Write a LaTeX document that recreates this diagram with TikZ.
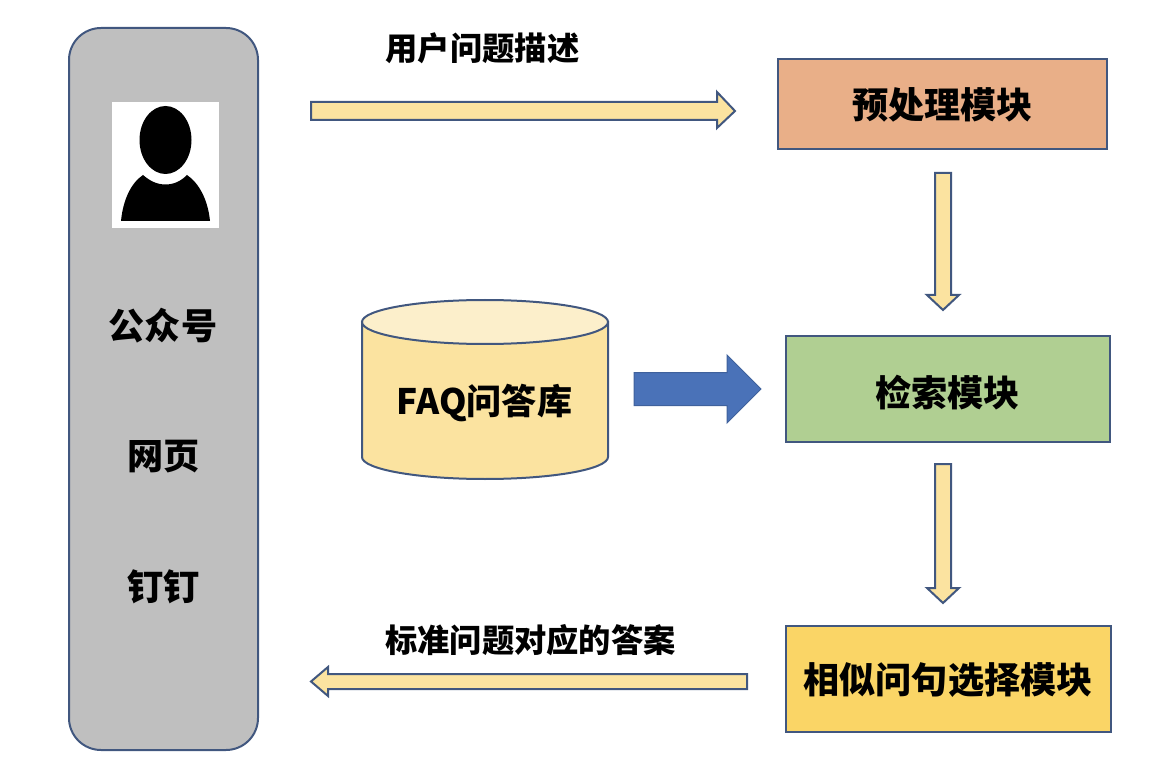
\documentclass[tikz,border=0pt]{standalone}
\usepackage{fontspec}
\setmainfont{Noto Sans CJK SC}
\definecolor{edge}{HTML}{41577F}
\definecolor{panel}{HTML}{BFBFBF}
\definecolor{pale}{HTML}{FBE3A0}
\definecolor{paletop}{HTML}{FCEFCB}
\definecolor{prefill}{HTML}{E9AF88}
\definecolor{searchfill}{HTML}{B0CF92}
\definecolor{simfill}{HTML}{FAD566}
\definecolor{bluefill}{HTML}{4A72B8}
\tikzset{
  x=0.75pt,y=-0.75pt,
  shape edge/.style={draw=edge,line width=1.5pt,line join=miter},
  modulebox/.style={shape edge,rectangle,inner sep=0pt},
  biglabel/.style={inner sep=0pt,font=\fontsize{27.1}{30}\selectfont\bfseries},
  smalllabel/.style={inner sep=0pt,font=\fontsize{24.2}{27}\selectfont\bfseries},
  paleblock/.style={shape edge,fill=pale},
  blueblock/.style={draw=bluefill!85!black,line width=0.75pt,fill=bluefill},
}
\begin{document}
\begin{tikzpicture}
\useasboundingbox (0,0) rectangle (1158,770);
% left panel
\node[shape edge,fill=panel,rectangle,rounded corners=24pt,inner sep=0pt,minimum width=141.75pt,minimum height=541.5pt] (panel) at (163.5,389) {};
% person icon
\fill[white] (112,102) rectangle (219,228);
\fill[black] (165.5,140) ellipse [x radius=26,y radius=34];
\fill[black] (121,221) .. controls (123,200) and (131,183) .. (143,175) .. controls (150,181) and (157,184.5) .. (165.5,184.5)
  .. controls (174,184.5) and (181,181) .. (187,175) .. controls (199,183) and (208,200) .. (210,221) -- cycle;
\node[biglabel] (gzh) at (163,326) {公众号};
\node[biglabel] (web) at (163.5,456.5) {网页};
\node[biglabel] (ding) at (163.5,586.5) {钉钉};
% modules
\node[modulebox,fill=prefill,minimum width=246.75pt,minimum height=67.5pt] (pre) at (942.5,104) {};
\node[biglabel] (prelabel) at (942.5,105) {预处理模块};
\node[modulebox,fill=searchfill,minimum width=243pt,minimum height=79.5pt] (search) at (948,389) {};
\node[biglabel] (searchlabel) at (947.5,392.5) {检索模块};
\node[modulebox,fill=simfill,minimum width=243.75pt,minimum height=79.5pt] (sim) at (948.5,679) {};
\node[biglabel] (simlabel) at (948,680) {相似问句选择模块};
% cylinder
\draw[shape edge,fill=pale] (362,322) -- (362,457) arc[start angle=180,end angle=0,x radius=123,y radius=22] -- (608,322) -- cycle;
\draw[shape edge,fill=paletop] (485,322) ellipse [x radius=123,y radius=22];
\node[biglabel,font=\fontsize{26.3}{30}\selectfont\bfseries] (faq) at (484.5,403) {FAQ问答库};
% block arrows
\draw[paleblock] (311,102) -- (717,102) -- (717,92) -- (735,111) -- (717,128) -- (717,120) -- (311,120) -- cycle;
\draw[paleblock] (935,173) -- (951,173) -- (951,295) -- (959,295) -- (943,310) -- (927,295) -- (935,295) -- cycle;
\draw[paleblock] (935,464) -- (951,464) -- (951,588) -- (959,588) -- (943,603) -- (927,588) -- (935,588) -- cycle;
\draw[paleblock] (747,674) -- (328,674) -- (328,667) -- (311,681.5) -- (328,696) -- (328,689) -- (747,689) -- cycle;
\draw[blueblock] (634,372.5) -- (727,372.5) -- (727,355) -- (761,389) -- (727,423) -- (727,405.5) -- (634,405.5) -- cycle;
% labels
\node[smalllabel] (ask) at (482.5,48) {用户问题描述};
\node[smalllabel] (ans) at (530.5,640) {标准问题对应的答案};
\end{tikzpicture}
\end{document}
